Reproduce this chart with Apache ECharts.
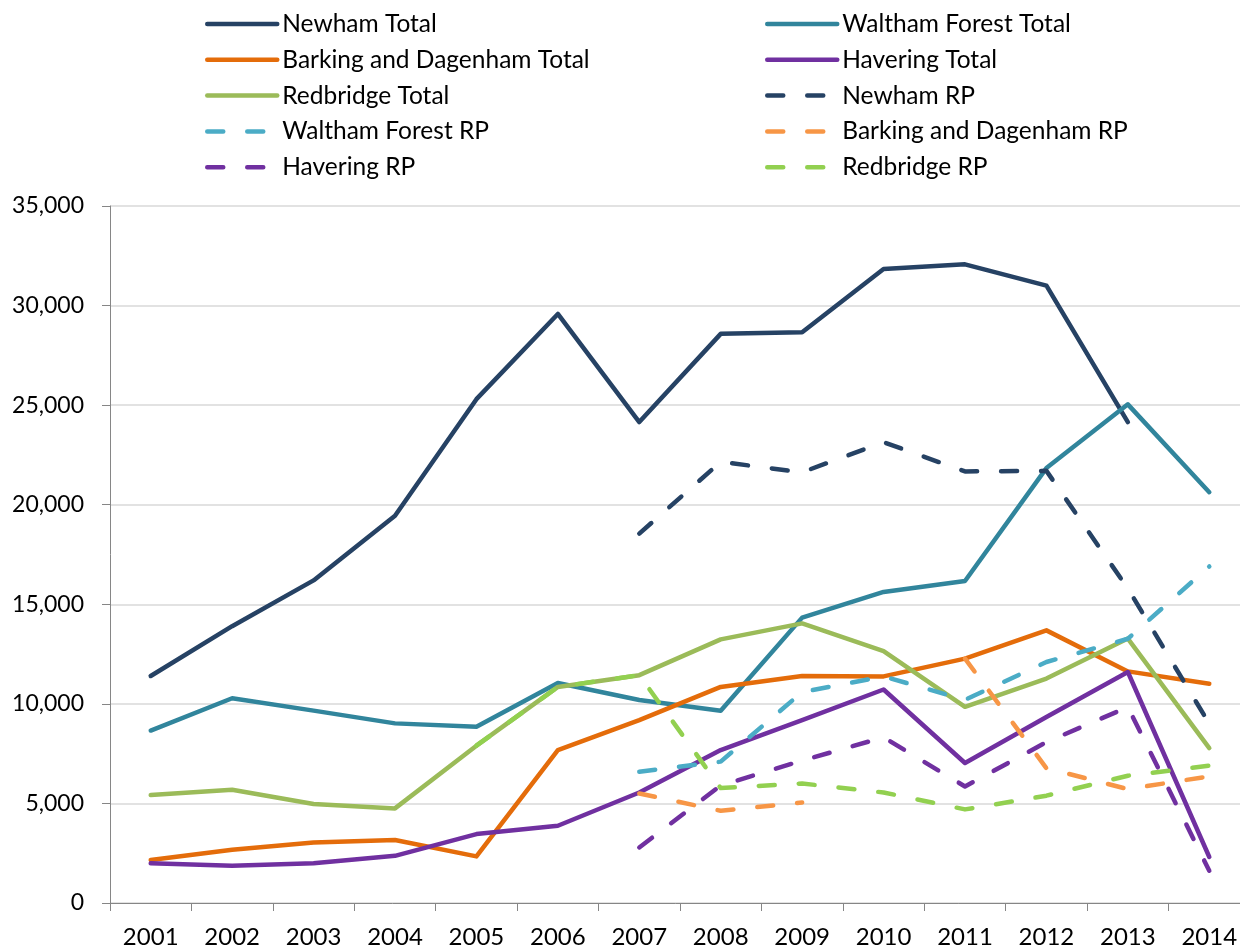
<!DOCTYPE html>
<html>
<head>
<meta charset="utf-8">
<script src="https://cdn.jsdelivr.net/npm/echarts@6/dist/echarts.min.js"></script>
<style>
  html, body { margin: 0; padding: 0; background: #fff; }
  #chart { width: 1240px; height: 947px; }
</style>
</head>
<body>
<div id="chart"></div>
<script>
// years on the x axis
var years = ["2001", "2002", "2003", "2004", "2005", "2006", "2007",
             "2008", "2009", "2010", "2011", "2012", "2013", "2014"];

// totals
var newhamTotal    = [11400, 13900, 16200, 19450, 25300, 29580, 24150, 28580, 28660, 31840, 32070, 31000, 24150, null];
var walthamTotal   = [8660, 10280, 9660, 9020, 8850, 11050, 10190, 9650, 14330, 15620, 16170, 21840, 25040, 20630];
var barkingTotal   = [2160, 2670, 3040, 3160, 2340, 7680, 9180, 10850, 11400, 11380, 12270, 13690, 11630, 11010];
var haveringTotal  = [1990, 1870, 2000, 2370, 3460, 3880, 5550, 7680, 9180, 10720, 7030, 9340, 11600, 2310];
var redbridgeTotal = [5420, 5690, 4970, 4750, 7900, 10850, 11440, 13240, 14040, 12650, 9850, 11270, 13280, 7780];

// RP
var newhamRP    = [null, null, null, null, null, null, 18550, 22150, 21630, 23140, 21670, 21700, 15790, 9000];
var walthamRP   = [null, null, null, null, null, null, 6590, 7100, 10590, 11380, 10200, 12100, 13270, 16900];
var barkingRP   = [null, null, null, null, null, null, 5500, 4630, 5050, null, 12270, 6770, 5720, 6360];
var haveringRP  = [null, null, null, null, null, null, 2790, 5900, 7150, 8320, 5850, 8080, 9840, 1620];
var redbridgeRP = [null, null, null, null, 7900, 10850, 11440, 5770, 6000, 5550, 4700, 5390, 6390, 6900];

var font = "Lato, 'Open Sans', sans-serif";

function mkLine(name, data, color, dashed) {
  return {
    name: name,
    type: "line",
    data: data,
    symbol: "none",
    connectNulls: false,
    animation: false,
    lineStyle: {
      color: color,
      width: 4.5,
      type: dashed ? [16, 24] : "solid",
      cap: "round",
      join: "round",
    },
    itemStyle: { color: color },
  };
}

var dom = document.getElementById("chart");
var myChart = echarts.init(dom, null, { renderer: "canvas" });

var legendText = { color: "#000", fontSize: 24.5, fontFamily: font };
var legendBase = {
  orient: "vertical",
  top: 6.5,
  itemWidth: 70,
  itemHeight: 14,
  itemGap: 10.8,
  textStyle: legendText,
  itemStyle: { opacity: 0 },
  lineStyle: { width: 4.5 },
};

var option = {
  backgroundColor: "#fff",
  animation: false,
  legend: [
    Object.assign({}, legendBase, {
      left: 200,
      data: ["Newham Total", "Barking and Dagenham Total", "Redbridge Total",
             "Waltham Forest RP", "Havering RP"],
    }),
    Object.assign({}, legendBase, {
      left: 760,
      data: ["Waltham Forest Total", "Havering Total", "Newham RP",
             "Barking and Dagenham RP", "Redbridge RP"],
    }),
  ],
  grid: {
    left: 110,
    top: 206,
    right: -10,
    bottom: 44,
    containLabel: false,
    outerBoundsMode: "none",
  },
  xAxis: {
    type: "category",
    data: years,
    boundaryGap: true,
    axisLine: { lineStyle: { color: "#868686", width: 1 } },
    axisTick: { show: true, length: 8, lineStyle: { color: "#868686" } },
    axisLabel: { color: "#000", fontSize: 24, fontFamily: font, margin: 22 },
  },
  yAxis: {
    type: "value",
    min: 0,
    max: 35000,
    interval: 5000,
    axisLine: { show: true, lineStyle: { color: "#868686", width: 1 } },
    axisTick: { show: true, length: 8, lineStyle: { color: "#868686" } },
    axisLabel: {
      color: "#000",
      fontSize: 23,
      fontFamily: font,
      margin: 26,
      formatter: function (v) {
        return v.toString().replace(/\B(?=(\d{3})+(?!\d))/g, ",");
      },
    },
    splitLine: { lineStyle: { color: "#d9d9d9", width: 1.5 } },
  },
  series: [
    mkLine("Newham Total", newhamTotal, "#264264", false),
    mkLine("Waltham Forest Total", walthamTotal, "#31859c", false),
    mkLine("Barking and Dagenham Total", barkingTotal, "#e46c0a", false),
    mkLine("Havering Total", haveringTotal, "#7030a0", false),
    mkLine("Redbridge Total", redbridgeTotal, "#9bbb59", false),
    mkLine("Newham RP", newhamRP, "#264264", true),
    mkLine("Waltham Forest RP", walthamRP, "#4bacc6", true),
    mkLine("Barking and Dagenham RP", barkingRP, "#f79646", true),
    mkLine("Havering RP", haveringRP, "#7030a0", true),
    mkLine("Redbridge RP", redbridgeRP, "#92d050", true),
  ],
};

if (option && typeof option === "object") {
  myChart.setOption(option);
}
window.addEventListener("resize", myChart.resize);
</script>
</body>
</html>
